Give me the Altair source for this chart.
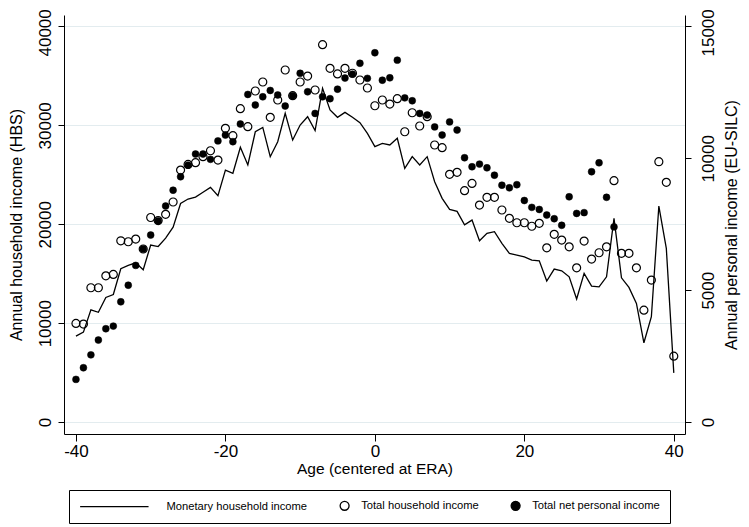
import altair as alt
import pandas as pd

ages = list(range(-40, 41))

monetary_household = [
    8700, 9100, 11350, 11100, 12600, 12900, 15500, 15850, 16100, 15400,
    17900, 17750, 18600, 19700, 22100, 22550, 22750, 23230, 23730, 22880,
    25480, 25150, 27780, 25990, 29350, 29790, 26830, 28340, 31210, 28510,
    30030, 30870, 29460, 33740, 31550, 30810, 31310, 30810, 30260, 29190,
    27840, 28180, 28010, 28690, 25650, 26830, 25990, 26830, 24300, 22620,
    21500, 21300, 19950, 20420, 18330, 19080, 19250, 18070, 17060, 16890,
    16710, 16380, 16310, 14260, 15470, 15300, 14690, 12440, 15040, 13750,
    13680, 14690, 20600, 14590, 13620, 12000, 8020, 10650, 21840, 17560,
    4980,
]

total_household = [
    9980, 9910, 13580, 13580, 14790, 14930, 18330, 18230, 18500, 17500,
    20680, 20370, 21000, 22250, 25480, 26050, 26220, 26830, 27430, 26490,
    29700, 28950, 31680, 29860, 33470, 34380, 30810, 32560, 35590, 33000,
    34380, 34980, 33570, 38150, 35760, 35190, 35760, 35260, 34580, 33770,
    31980, 32560, 32150, 32690, 29350, 31270, 29930, 30870, 28010, 27740,
    25050, 25250, 23390, 24130, 21940, 22720, 22720, 21440, 20600, 20150,
    20150, 19800, 20090, 17620, 18980, 18400, 17720, 15600, 18300, 16480,
    17120, 17720, 24400, 17060, 17060, 15600, 11320, 14360, 26320, 24240,
    6670,
]

ages_personal = list(range(-40, 33))
net_personal = [
    1620, 2060, 2550, 3110, 3540, 3640, 4560, 5190, 5940, 6560,
    7090, 7620, 8190, 8790, 9300, 9740, 10160, 10160, 9960, 10660,
    10880, 10630, 11300, 12420, 12020, 12330, 12570, 12400, 11980, 12370,
    13220, 12520, 11700, 12330, 12260, 12620, 13040, 13190, 13600, 13030,
    14000, 12960, 13050, 13720, 12290, 12180, 11700, 11640, 11190, 10880,
    11380, 11070, 10020, 9680, 9780, 9640, 9360, 8980, 8880, 9000,
    8400, 8140, 8060, 7850, 7710, 7460, 8540, 7910, 7940, 9490,
    9830, 8520, 7400,
]

series_names = ["Monetary household income", "Total household income",
                "Total net personal income"]

x_ticks = [-40, -20, 0, 20, 40]
left_ticks = [0, 10000, 20000, 30000, 40000]
right_ticks = [0, 5000, 10000, 15000]

line_df = pd.DataFrame({"age": ages, "value": monetary_household,
                        "series": series_names[0]})
hollow_df = pd.DataFrame({"age": ages, "value": total_household,
                          "series": series_names[1]})
filled_df = pd.DataFrame({"age": ages_personal, "value": net_personal,
                          "series": series_names[2]})

FONT = "Liberation Sans"
TICK_FS = 17

x_enc = alt.X(
    "age:Q",
    scale=alt.Scale(domain=[-41.6, 41.5], nice=False, zero=False),
    axis=alt.Axis(values=x_ticks, grid=False, title="Age (centered at ERA)",
                  tickSize=7, labelPadding=2, titlePadding=2,
                  labelFontSize=TICK_FS, titleFontSize=15.5,
                  labelExpr="datum.value < 0 ? '-' + format(-datum.value, 'd') : format(datum.value, 'd')"),
)

left_y = alt.Y(
    "value:Q",
    scale=alt.Scale(domain=[-1200, 41150], nice=False, zero=False),
    axis=alt.Axis(values=left_ticks, orient="left", grid=True,
                  gridColor="#E3ECEF", gridWidth=1,
                  title="Annual household income (HBS)",
                  labelAngle=270, labelAlign="center", labelBaseline="bottom",
                  labelOffset=alt.condition("datum.value == 40000", alt.value(6), alt.value(0)),
                  tickSize=6, labelPadding=4, titlePadding=12,
                  labelFontSize=TICK_FS, titleFontSize=16, format="d"),
)

right_y = alt.Y(
    "value:Q",
    scale=alt.Scale(domain=[-450, 15431], nice=False, zero=False),
    axis=alt.Axis(values=right_ticks, orient="right", grid=False,
                  title="Annual personal income (EU-SILC)",
                  labelAngle=270, labelAlign="center", labelBaseline="top",
                  labelOffset=alt.condition("datum.value == 15000", alt.value(6), alt.value(0)),
                  titleAngle=270, titleBaseline="top",
                  tickSize=6, labelPadding=9, titlePadding=7,
                  labelFontSize=TICK_FS, titleFontSize=16, format="d"),
)

# zero-width space keeps the no-break spaces from being trimmed
pad = "\u200b" + "\u00a0" * 21
legend = alt.Legend(
    orient="none", legendX=5, legendY=475, direction="horizontal", title=None,
    labelLimit=400,
    labelExpr=f"datum.value == '{series_names[0]}' ? '{pad}' + datum.label : datum.label",
)

shape_enc = alt.Shape(
    "series:N",
    scale=alt.Scale(domain=series_names,
                    range=["M-1,0L14.3,0", "circle", "circle"]),
    legend=legend,
)
fill_enc = alt.Fill(
    "series:N",
    scale=alt.Scale(domain=series_names,
                    range=["transparent", "transparent", "black"]),
    legend=legend,
)
stroke_enc = alt.Stroke(
    "series:N",
    scale=alt.Scale(domain=series_names, range=["black", "black", "black"]),
    legend=legend,
)

line = alt.Chart(line_df).mark_line(color="black", strokeWidth=1.3).encode(
    x=x_enc, y=left_y
)

hollow = alt.Chart(hollow_df).mark_point(
    filled=True, strokeWidth=1.2, size=64, opacity=1
).encode(x=x_enc, y=left_y, shape=shape_enc, fill=fill_enc, stroke=stroke_enc)

filled = alt.Chart(filled_df).mark_point(
    filled=True, strokeWidth=0.5, size=48, opacity=1
).encode(x=x_enc, y=right_y, shape=shape_enc, fill=fill_enc, stroke=stroke_enc)

inner = alt.layer(line, hollow)

chart = (
    alt.layer(inner, filled)
    .resolve_scale(y="independent")
    .properties(
        width=621,
        height=419,
        padding={"left": 56, "top": 7, "right": 56, "bottom": 93},
        autosize=alt.AutoSizeParams(type="none"),
    )
    .configure(font=FONT)
    .configure_view(stroke=None)
    .configure_axis(
        domainColor="black", tickColor="black", labelColor="black",
        titleColor="black", titleFontWeight="normal", labelFont=FONT,
        titleFont=FONT, domainWidth=1, tickWidth=1,
    )
    .configure_legend(
        strokeColor="black", fillColor="white", padding=10,
        labelFontSize=11.2, labelFont=FONT, labelColor="black",
        labelLimit=400,
        symbolStrokeColor="black", symbolStrokeWidth=1.3, symbolSize=80,
        columnPadding=29, labelOffset=11,
    )
)

chart.save("out.html", embed_options={"renderer": "svg", "actions": False})
